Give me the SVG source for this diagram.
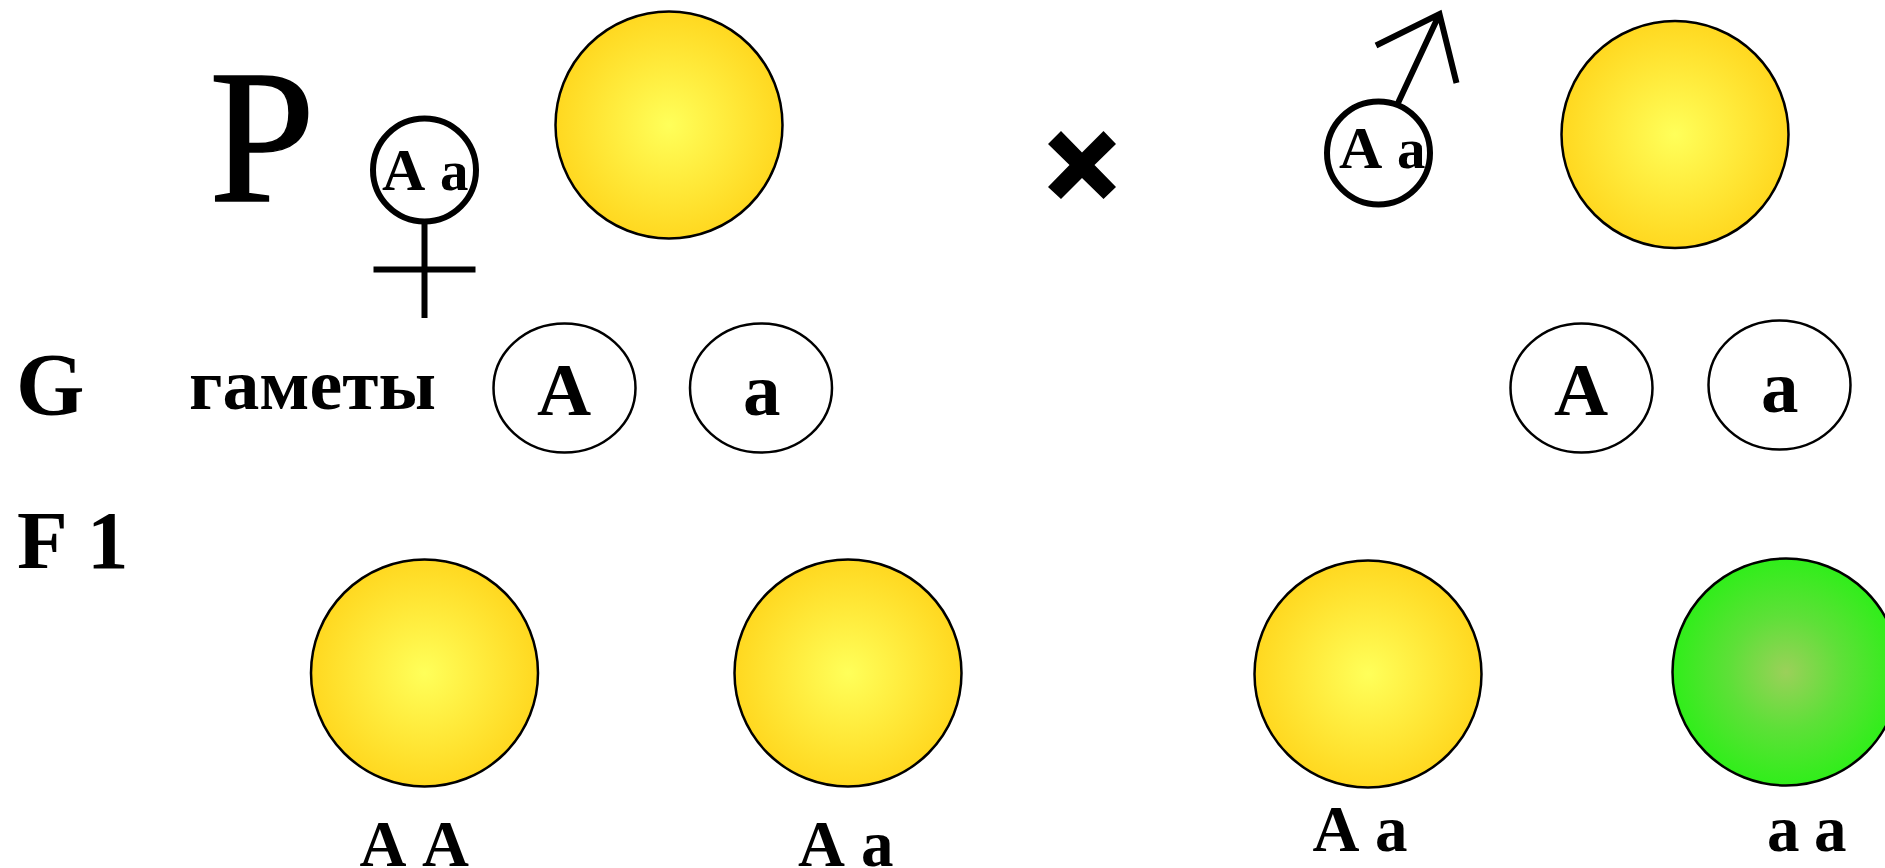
<svg xmlns="http://www.w3.org/2000/svg" width="1885" height="868" viewBox="0 0 1885 868">
<style>
text{font-family:"Liberation Serif","Times New Roman",serif;font-weight:bold;fill:#000}
.big{font-size:84px}.g{font-size:75px}.s{font-size:60px}.sa{font-size:57px}.l{font-size:65px}
.pea{stroke:#000;stroke-width:2.5}
.y{fill:url(#yel)}.gr{fill:url(#grn)}
.gam{fill:#fff;stroke:#000;stroke-width:2.5}
.sym{fill:none;stroke:#000;stroke-width:6}
</style>
<defs>
<radialGradient id="yel"><stop offset="0" stop-color="#ffff5a"/><stop offset="1" stop-color="#ffd820"/></radialGradient>
<radialGradient id="grn"><stop offset="0" stop-color="#9bd05a"/><stop offset="0.5" stop-color="#5ee038"/><stop offset="1" stop-color="#30ee1a"/></radialGradient>
</defs>
<rect width="1885" height="868" fill="#fff"/>
<g id="label-P"><text x="209" y="201" font-size="191" style="font-weight:normal;stroke:#000;stroke-width:1.5">P</text></g>
<g id="parent-female-pea"><ellipse class="pea y" cx="669" cy="125" rx="113.5" ry="113.5"/></g>
<g id="female-symbol">
<circle class="sym" cx="424.5" cy="170" r="51.5"/>
<path class="sym" d="M424.500 222V318M373.500 269.500H475.500"/>
<text class="s" x="382" y="190">A</text><text class="sa" x="440" y="190">a</text>
</g>
<g id="cross"><polygon points="1061,131 1082,152.500 1103.500,131 1116,144 1094.500,165 1116,187 1103.500,199 1082,178 1061,199 1048,187 1069.500,165 1048,144"/></g>
<g id="male-symbol">
<circle class="sym" cx="1378.500" cy="153" r="51.500"/>
<path class="sym" d="M1398 103L1439.500 14M1376 45.500L1439.500 14L1456.500 83"/>
<text class="s" x="1339" y="168">A</text><text class="sa" x="1397" y="168">a</text>
</g>
<g id="parent-male-pea"><ellipse class="pea y" cx="1675" cy="134.500" rx="113.500" ry="113.500"/></g>
<g id="label-G"><text x="16" y="414" font-size="88">G</text></g>
<g id="label-gametes"><text x="189" y="409" font-size="72" textLength="247" lengthAdjust="spacingAndGlyphs">гаметы</text></g>
<g id="gamete-1"><ellipse class="gam" cx="564.500" cy="388" rx="71" ry="64.500"/><text class="g" x="537" y="415">A</text></g>
<g id="gamete-2"><ellipse class="gam" cx="761" cy="388" rx="71" ry="64.500"/><text class="g" x="743" y="415">a</text></g>
<g id="gamete-3"><ellipse class="gam" cx="1581.500" cy="388" rx="71" ry="64.500"/><text class="g" x="1554" y="415">A</text></g>
<g id="gamete-4"><ellipse class="gam" cx="1779.500" cy="385" rx="71" ry="64.500"/><text class="g" x="1761" y="412">a</text></g>
<g id="label-F1"><text x="17" y="568" font-size="83">F</text><text x="87" y="568" font-size="83">1</text></g>
<g id="child-AA"><ellipse class="pea y" cx="424.500" cy="673" rx="113.500" ry="113.500"/><text class="l" x="359.500" y="866">A</text><text class="l" x="422" y="866">A</text></g>
<g id="child-Aa-1"><ellipse class="pea y" cx="848" cy="673" rx="113.500" ry="113.500"/><text class="l" x="798" y="866">A</text><text class="l" x="861" y="866">a</text></g>
<g id="child-Aa-2"><ellipse class="pea y" cx="1368" cy="674" rx="113.500" ry="113.500"/><text class="l" x="1312.500" y="851">A</text><text class="l" x="1375" y="851">a</text></g>
<g id="child-aa"><ellipse class="pea gr" cx="1786" cy="672" rx="113.500" ry="113.500"/><text class="l" x="1767" y="851">a</text><text class="l" x="1814" y="851">a</text></g>
<g id="connectors"/>
</svg>
